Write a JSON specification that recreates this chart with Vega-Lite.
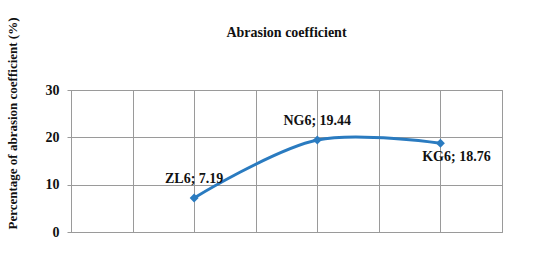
{
  "$schema": "https://vega.github.io/schema/vega-lite/v6.json",
  "autosize": "none",
  "width": 431,
  "height": 142,
  "padding": {"left": 71, "top": 90, "right": 48, "bottom": 27},
  "background": "white",
  "title": {
    "text": "Abrasion coefficient",
    "font": "Liberation Serif",
    "fontSize": 14,
    "fontWeight": "bold",
    "color": "#111111",
    "anchor": "middle",
    "frame": "group",
    "offset": -25
  },
  "config": {
    "view": {"stroke": "#9a9a9a", "strokeWidth": 1},
    "axis": {
      "gridColor": "#9a9a9a",
      "gridWidth": 1,
      "gridOpacity": 1,
      "domainColor": "#9a9a9a",
      "tickColor": "#9a9a9a",
      "labelFont": "Liberation Serif",
      "labelFontWeight": "bold",
      "labelFontSize": 14,
      "labelColor": "#111111",
      "titleFont": "Liberation Serif",
      "titleFontWeight": "bold",
      "titleColor": "#111111"
    }
  },
  "data": {
    "values": [
      {"sample": "ZL6", "index": 1, "value": 7.19},
      {"sample": "NG6", "index": 2, "value": 19.44},
      {"sample": "KG6", "index": 3, "value": 18.76}
    ]
  },
  "encoding": {
    "x": {
      "field": "index",
      "type": "quantitative",
      "scale": {"domain": [0, 3.5], "nice": false, "zero": false},
      "axis": {
        "title": null,
        "labels": false,
        "ticks": false,
        "values": [0, 0.5, 1, 1.5, 2, 2.5, 3, 3.5],
        "grid": true
      }
    },
    "y": {
      "field": "value",
      "type": "quantitative",
      "scale": {"domain": [0, 30], "nice": false},
      "axis": {
        "title": "Percentage of abrasion coefficient  (%)",
        "titleFontSize": 13,
        "titleAngle": -90,
        "titleX": -59,
        "titleY": 33,
        "titleAlign": "center",
        "titleBaseline": "middle",
        "values": [0, 10, 20, 30],
        "tickSize": 4,
        "labelPadding": 8,
        "grid": true,
        "domain": true
      }
    }
  },
  "layer": [
    {
      "mark": {"type": "line", "interpolate": "catmull-rom", "color": "#2a7bc0", "strokeWidth": 3}
    },
    {
      "mark": {"type": "point", "shape": "diamond", "filled": true, "size": 80, "color": "#2a7bc0", "opacity": 1}
    },
    {
      "mark": {"type": "text", "font": "Liberation Serif", "fontWeight": "bold", "fontSize": 14, "color": "#111111", "dy": -19},
      "encoding": {"text": {"field": "label"}},
      "transform": [
        {"filter": "datum.sample != 'KG6'"},
        {"calculate": "datum.sample + '; ' + format(datum.value, '.2f')", "as": "label"}
      ]
    },
    {
      "mark": {"type": "text", "font": "Liberation Serif", "fontWeight": "bold", "fontSize": 14, "color": "#111111", "dx": 16, "dy": 14},
      "encoding": {"text": {"field": "label"}},
      "transform": [
        {"filter": "datum.sample == 'KG6'"},
        {"calculate": "datum.sample + '; ' + format(datum.value, '.2f')", "as": "label"}
      ]
    }
  ]
}
